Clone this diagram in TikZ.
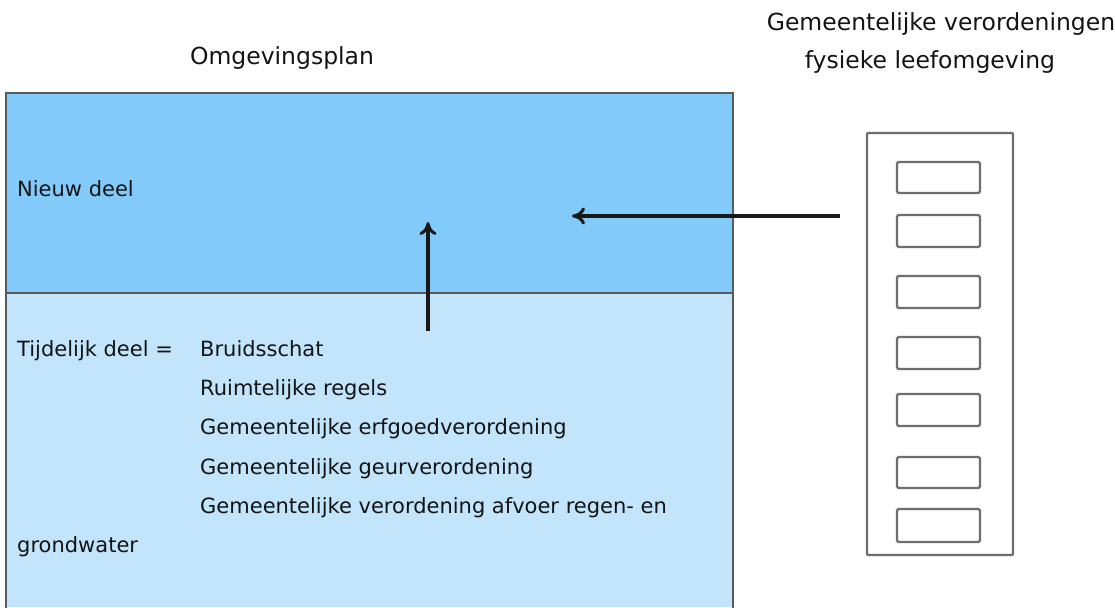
\documentclass[tikz,border=0pt]{standalone}
\usepackage{fontspec}
\setmainfont{DejaVu Sans}
\usetikzlibrary{arrows.meta}
\definecolor{topblue}{HTML}{82CAFA}
\definecolor{botblue}{HTML}{C2E5FC}
\definecolor{edge}{HTML}{5A5A5A}
\definecolor{grayline}{HTML}{6E6E6E}
\definecolor{txt}{HTML}{141414}
\tikzset{
  lbl/.style={anchor=base west, inner sep=0pt, font=\fontsize{21}{24}\selectfont, text=txt},
  ttl/.style={anchor=base, inner sep=0pt, font=\fontsize{23.5}{26}\selectfont, text=txt},
  slot/.style={draw=grayline, line width=2.2pt, rounded corners=1.5pt},
  arr/.style={draw=black!90, line width=3.2pt, -{To[length=13pt,width=17pt,line width=3pt]}}
}
\begin{document}
\begin{tikzpicture}[x=1pt,y=-1pt]
\useasboundingbox (0,0) rectangle (1115,607);
\fill[white] (0,0) rectangle (1115,607);
% main plan
\fill[topblue] (6,93) rectangle (733,293);
\fill[botblue] (6,293) rectangle (733,607);
\draw[edge, line width=2pt] (6,620) -- (6,93) -- (733,93) -- (733,620);
\draw[edge, line width=1.8pt] (6,293) -- (733,293);
% texts
\node[ttl] (omg) at (282,65) {Omgevingsplan};
\node[ttl] (gv1) at (941,31) {Gemeentelijke verordeningen};
\node[ttl] (gv2) at (930,69) {fysieke leefomgeving};
\node[lbl] (nieuw) at (17,196) {Nieuw deel};
\node[lbl] (tijd) at (17,356) {Tijdelijk deel =};
\node[lbl] (l1) at (200,356) {Bruidsschat};
\node[lbl] (l2) at (200,395) {Ruimtelijke regels};
\node[lbl] (l3) at (200,434) {Gemeentelijke erfgoedverordening};
\node[lbl] (l4) at (200,474) {Gemeentelijke geurverordening};
\node[lbl] (l5) at (200,513) {Gemeentelijke verordening afvoer regen- en};
\node[lbl] (l6) at (17,552) {grondwater};
% right column
\draw[grayline, line width=2.2pt, rounded corners=1pt] (867,133) rectangle (1013,555);
\foreach \i/\a/\b in {1/162/193, 2/215/247, 3/276/308, 4/337/369, 5/394/426, 6/457/488, 7/509/542}{
  \draw[slot] (897,\a) rectangle (980,\b);
}
% arrows
\coordinate (vs) at (428,331);
\coordinate (ve) at (428,222);
\coordinate (hs) at (840,216);
\coordinate (he) at (572,216);
\draw[arr] (vs) -- (ve);
\draw[arr] (hs) -- (he);
\end{tikzpicture}
\end{document}
